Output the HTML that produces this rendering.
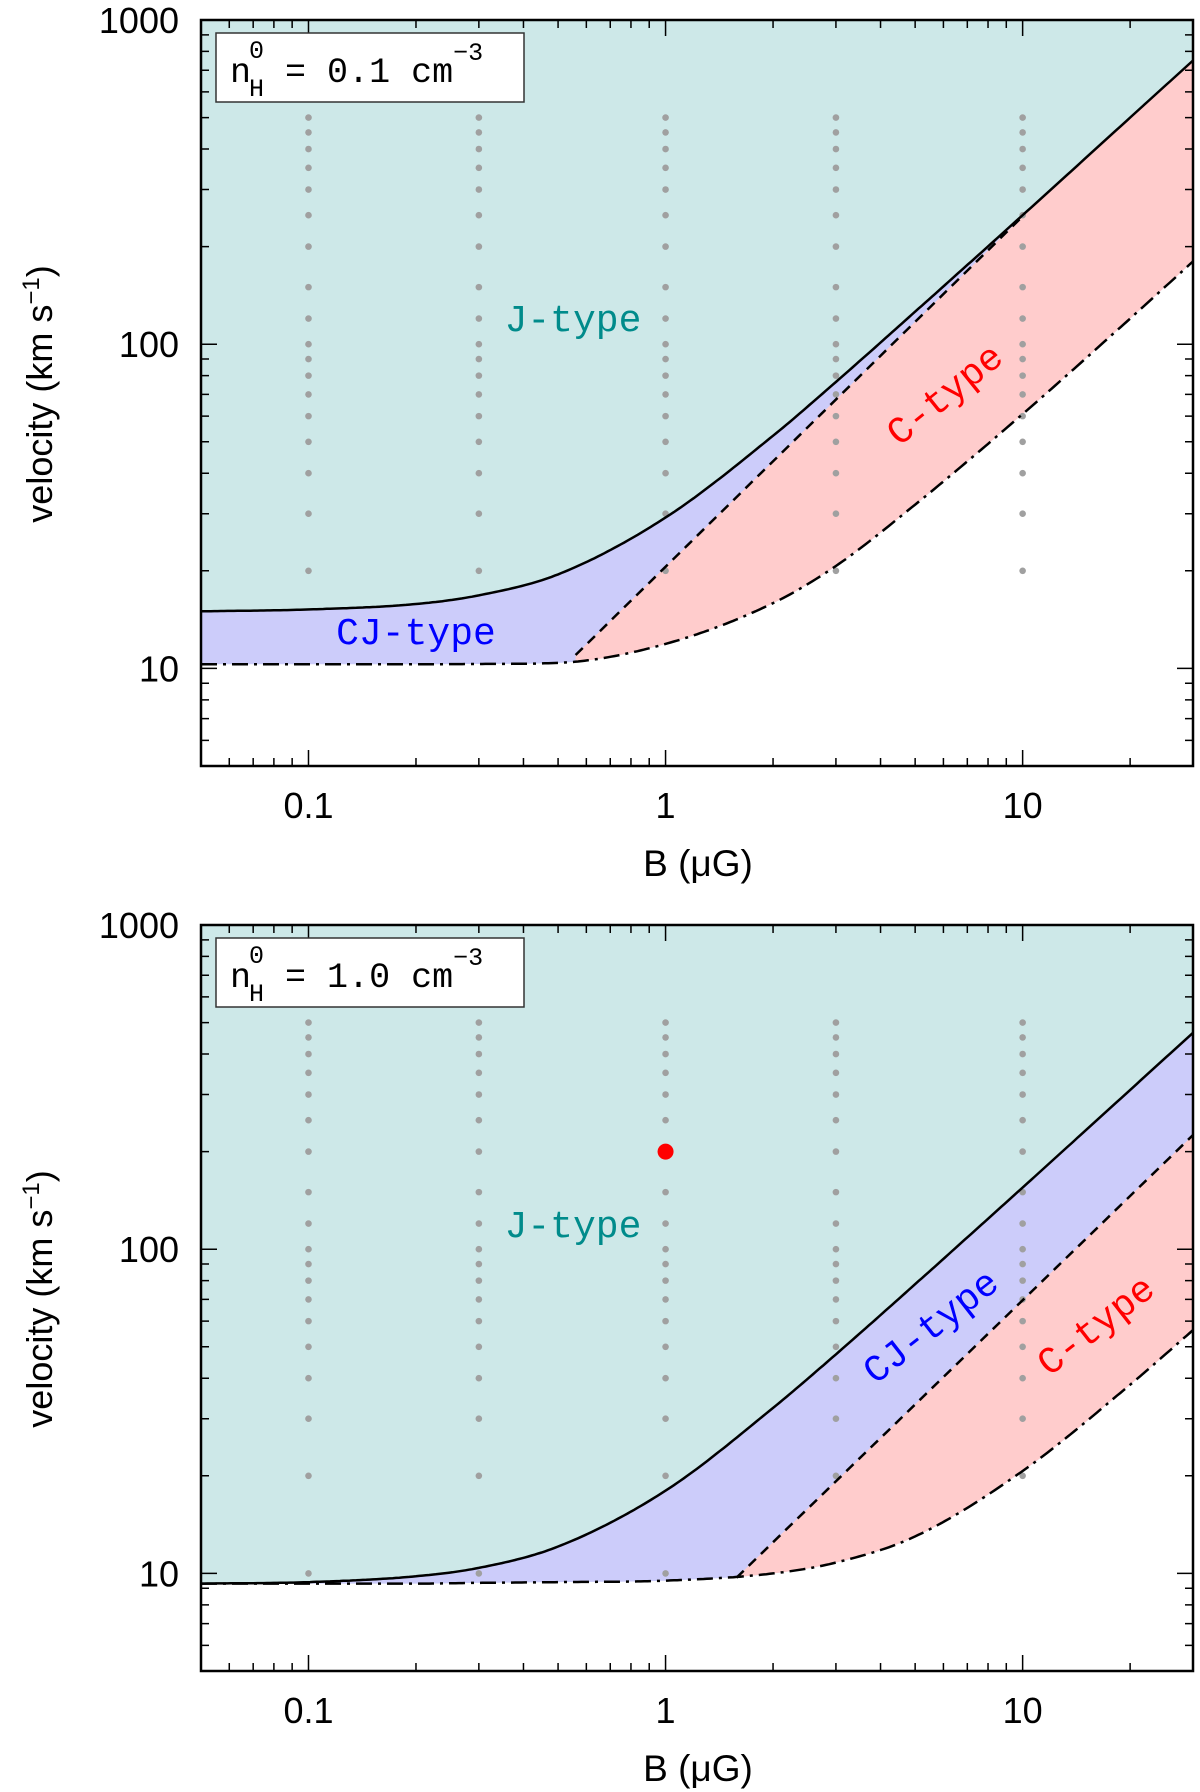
<!DOCTYPE html>
<html><head><meta charset="utf-8"><style>
html,body{margin:0;padding:0;background:#fff}
svg{display:block}
text{font-family:"Liberation Sans",sans-serif}
.mono{font-family:"Liberation Mono","Courier New",monospace}
</style></head><body>
<svg id="fig" width="1200" height="1792" viewBox="0 0 1200 1792" xmlns="http://www.w3.org/2000/svg"></svg>
<script>
// ---- data ----
const xTicks = [0.1, 1, 10];
const xTickLabels = ["0.1", "1", "10"];
const yTicks = [10, 100, 1000];
const yTickLabels = ["10", "100", "1000"];
const sampleB = [0.05, 0.1, 0.2, 0.3, 0.5, 1, 2, 3, 5, 10, 20, 30];
// panel 1 (n_H = 0.1)
const p1Solid = [15.0, 15.2, 15.8, 16.8, 19.5, 29.2, 52.2, 76.5, 126, 250, 500, 750];
const p1DashDot = [10.3, 10.3, 10.3, 10.32, 10.4, 11.9, 15.9, 20.7, 32, 60.9, 120, 180];
const p1DashedB = [0.56, 10];
const p1DashedV = [11.0, 248];
// panel 2 (n_H = 1.0)
const p2Solid = [9.3, 9.4, 9.8, 10.4, 12.1, 18.0, 32.4, 47.4, 78, 155, 310, 465];
const p2DashDot = [9.3, 9.3, 9.3, 9.35, 9.4, 9.5, 10.0, 10.8, 13.0, 20.7, 38.2, 56.3];
const p2DashedB = [1.58, 30];
const p2DashedV = [9.7, 225];
const gridB = [0.1, 0.3, 1, 3, 10];
const gridV = [20, 30, 40, 50, 60, 70, 80, 90, 100, 120, 150, 200, 250, 300, 350, 400, 450, 500];
const p2LowDotB = [0.1, 0.3, 1];
const p2LowDotV = [10];
const markerB = [1];
const markerV = [200];

// ---- layout ----
const NS = "http://www.w3.org/2000/svg";
const svg = document.getElementById("fig");
const X0 = 201, X1 = 1193, XMIN = 0.05, XMAX = 30, YMIN = 5, YMAX = 1000, PH = 746;
function sx(b){return X0 + (Math.log10(b) - Math.log10(XMIN)) / (Math.log10(XMAX) - Math.log10(XMIN)) * (X1 - X0);}
function syF(top){return v => top + (Math.log10(YMAX) - Math.log10(v)) / (Math.log10(YMAX) - Math.log10(YMIN)) * PH;}
function mk(tag, attrs, parent){const e = document.createElementNS(NS, tag); for (const k in attrs) e.setAttribute(k, attrs[k]); (parent || svg).appendChild(e); return e;}
// monotone cubic interpolation in log-log space
function interp(bs, vs, b){
  const xs = bs.map(Math.log10), ys = vs.map(Math.log10), n = xs.length;
  const lb = Math.log10(b);
  if (n === 2){const t = (lb - xs[0]) / (xs[1] - xs[0]); return Math.pow(10, ys[0] + t * (ys[1] - ys[0]));}
  const d = [], m = [];
  for (let i = 0; i < n - 1; i++) d.push((ys[i+1] - ys[i]) / (xs[i+1] - xs[i]));
  m[0] = d[0]; m[n-1] = d[n-2];
  for (let i = 1; i < n - 1; i++) m[i] = (d[i-1] * d[i] <= 0) ? 0 : (d[i-1] + d[i]) / 2;
  for (let i = 0; i < n - 1; i++){
    if (d[i] === 0){m[i] = 0; m[i+1] = 0; continue;}
    const a = m[i] / d[i], c = m[i+1] / d[i], s = a*a + c*c;
    if (s > 9){const t = 3 / Math.sqrt(s); m[i] = t * a * d[i]; m[i+1] = t * c * d[i];}
  }
  let i = 0; while (i < n - 2 && lb > xs[i+1]) i++;
  const h = xs[i+1] - xs[i], t = (lb - xs[i]) / h;
  const h00 = 2*t*t*t - 3*t*t + 1, h10 = t*t*t - 2*t*t + t, h01 = -2*t*t*t + 3*t*t, h11 = t*t*t - t*t;
  return Math.pow(10, h00*ys[i] + h10*h*m[i] + h01*ys[i+1] + h11*h*m[i+1]);
}
function pathOf(pts){return pts.map((p, i) => (i ? "L" : "M") + p[0].toFixed(1) + " " + p[1].toFixed(1)).join(" ");}
function fineB(b0, b1, n){const r = []; for (let i = 0; i <= n; i++) r.push(Math.pow(10, Math.log10(b0) + (Math.log10(b1) - Math.log10(b0)) * i / n)); return r;}

function panel(top, solid, dd, dB, dV, nLabel, idx){
  const sy = syF(top);
  const g = mk("g", {});
  
  
  const bot = top + PH;
  const bs = fineB(XMIN, XMAX, 300);
  const solidPts = bs.map(b => [sx(b), sy(interp(sampleB, solid, b))]);
  const ddPts = bs.map(b => [sx(b), sy(interp(sampleB, dd, b))]);
  const j = mk("path", {d: "M" + X0 + " " + top + " " + pathOf(solidPts).replace("M", "L") + " L" + X1 + " " + top + " Z", fill: "#cde8e8"}, g);
  
  
  const cj = mk("path", {d: pathOf(solidPts) + " " + pathOf(ddPts.slice().reverse()).replace("M", "L") + " Z", fill: "#ccccfa"}, g);
  
  
  const cbs = fineB(dB[0], XMAX, 200);
  const upper = cbs.map(b => [sx(b), sy(Math.min(interp(dB, dV, b), interp(sampleB, solid, b)))]);
  const lower = cbs.map(b => [sx(b), sy(interp(sampleB, dd, b))]).reverse();
  const c = mk("path", {d: pathOf(upper) + " " + pathOf(lower).replace("M", "L") + " Z", fill: "#ffcccc"}, g);
  
  
  gridB.forEach(b => gridV.forEach(v => {
    const d = mk("circle", {cx: sx(b), cy: sy(v), r: 3.3, fill: "#a0a0a0"}, g);
    
    
  }));
  if (idx === 2){
    p2LowDotB.forEach(b => p2LowDotV.forEach(v => {
      const d = mk("circle", {cx: sx(b), cy: sy(v), r: 3.3, fill: "#a0a0a0"}, g);
      
      
    }));
  }
  const l1 = mk("path", {d: pathOf(solidPts), fill: "none", stroke: "#000", "stroke-width": 2.5}, g);
  
  
  const l2 = mk("path", {d: pathOf(ddPts), fill: "none", stroke: "#000", "stroke-width": 2.5, "stroke-dasharray": "16 6 3 6"}, g);
  
  
  const dPts = fineB(dB[0], dB[1], 20).map(b => [sx(b), sy(interp(dB, dV, b))]);
  const l3 = mk("path", {d: pathOf(dPts), fill: "none", stroke: "#000", "stroke-width": 2.5, "stroke-dasharray": "10 7"}, g);
  
  
  const fr = mk("rect", {x: X0, y: top, width: X1 - X0, height: PH, fill: "none", stroke: "#000", "stroke-width": 2.5}, g);
  
  
  let tk = "";
  for (let e = -2; e <= 1; e++) for (let m = 1; m <= 9; m++){
    const b = m * Math.pow(10, e); if (b < XMIN || b > XMAX) continue;
    const L = m === 1 ? 16 : 8, x = sx(b);
    tk += `M${x} ${bot}v${-L}M${x} ${top}v${L}`;
  }
  for (let e = 0; e <= 3; e++) for (let m = 1; m <= 9; m++){
    const v = m * Math.pow(10, e); if (v < YMIN || v > YMAX) continue;
    const L = m === 1 ? 16 : 8, y = sy(v);
    tk += `M${X0} ${y}h${L}M${X1} ${y}h${-L}`;
  }
  const t = mk("path", {d: tk, stroke: "#000", "stroke-width": 1.5, fill: "none"}, g);
  
  
  xTicks.forEach((b, i) => {
    const tx = mk("text", {x: sx(b), y: bot + 52, "text-anchor": "middle", "font-size": 36}, g);
    tx.textContent = xTickLabels[i];
    
    
  });
  yTicks.forEach((v, i) => {
    const ty = mk("text", {x: 179, y: sy(v) + 13, "text-anchor": "end", "font-size": 36}, g);
    ty.textContent = yTickLabels[i];
    
    
  });
  const xt = mk("text", {x: 698, y: bot + 110, "text-anchor": "middle", "font-size": 37}, g);
  xt.textContent = "B (\u03bcG)";
  
  
  const yt = mk("text", {transform: `translate(52 ${top + 374}) rotate(-90)`, "text-anchor": "middle", "font-size": 36}, g);
  yt.innerHTML = 'velocity (km s<tspan dy="-13" font-size="24">\u22121</tspan><tspan dy="13">)</tspan>';
  
  
  const lb = mk("rect", {x: 216, y: top + 13, width: 308, height: 69, fill: "#fff", stroke: "#333", "stroke-width": 1.5}, g);
  
  
  const lt = mk("text", {x: 230, y: top + 62, "font-size": 35, class: "mono"}, g);
  lt.innerHTML = 'n<tspan font-size="25" dx="-2" dy="-24">0</tspan><tspan font-size="25" dx="-15" dy="38">H</tspan><tspan dy="-14"> = ' + nLabel + ' cm</tspan><tspan font-size="25" dy="-22">\u22123</tspan>';
  
  
  return {g, sy};
}

function label(g, txt, x, y, color, rot, name){
  const t = mk("text", {x: x, y: y, "text-anchor": "middle", "dominant-baseline": "middle", "font-size": 38, fill: color, class: "mono", transform: rot ? `rotate(${rot} ${x} ${y})` : ""}, g);
  t.textContent = txt;
  
  
}

const P1 = panel(20, p1Solid, p1DashDot, p1DashedB, p1DashedV, "0.1", 1);
label(P1.g, "J-type", 573, 321, "#008b8b", 0, "j-type-label");
label(P1.g, "CJ-type", 416, 634, "#0000ff", 0, "cj-type-label");
label(P1.g, "C-type", 946, 396, "#ff0000", -39, "c-type-label");

const P2 = panel(925, p2Solid, p2DashDot, p2DashedB, p2DashedV, "1.0", 2);
label(P2.g, "J-type", 573, 1227, "#008b8b", 0, "j-type-label");
label(P2.g, "CJ-type", 932, 1328, "#0000ff", -38, "cj-type-label");
label(P2.g, "C-type", 1097, 1327, "#ff0000", -38, "c-type-label");
markerB.forEach((b, i) => {
  const m = mk("circle", {cx: sx(b), cy: P2.sy(markerV[i]), r: 8, fill: "#ff0000"}, P2.g);
  
  
});
</script>
</body></html>
